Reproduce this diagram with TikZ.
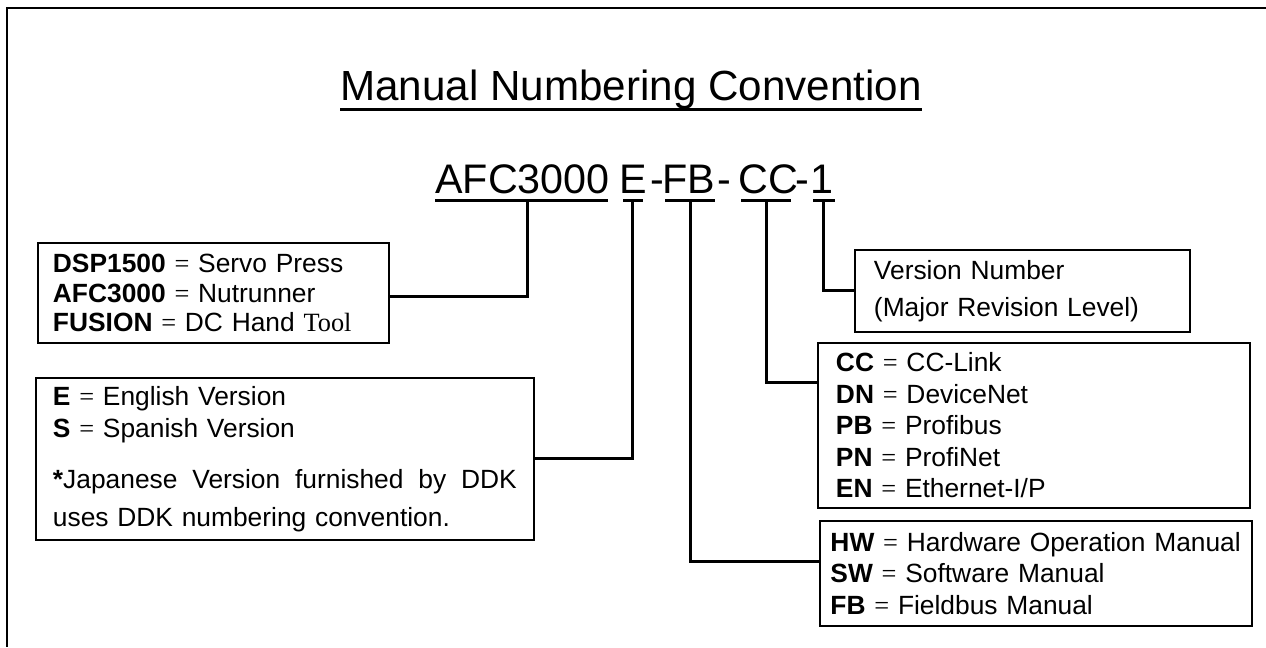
\documentclass[tikz,border=0pt]{standalone}
\usepackage{fontspec}
\setmainfont{Liberation Sans}
\newfontfamily\serifpart{Liberation Serif}
\usetikzlibrary{positioning, calc}
\newcommand{\eqsign}{{\serifpart =}}

\begin{document}
\begin{tikzpicture}[x=0.02cm, y=-0.02cm,
    infobox/.style={draw, line width=1.1pt, anchor=north west, align=left,
      font=\fontsize{15}{17.9}\selectfont},
    part/.style={inner sep=0pt, anchor=base west, font=\fontsize{23.5}{28}\selectfont},
    uline/.style={line width=1.7pt},
    conn/.style={line width=1.7pt}]

  \useasboundingbox (0,0) rectangle (1266,647);
  \draw[line width=1.5pt] (1266,8) -- (7,8) -- (7,647);

  % title
  \node[inner sep=0pt, anchor=base, font=\fontsize{24}{28}\selectfont] (title) at (631,100) {Manual Numbering Convention};
  \draw[uline] ($(title.base west)+(0,9)$) -- ($(title.base east)+(0,9)$);

  % part number
  \node[part] (pAFC) at (435,193) {AFC3000};
  \node[part] (pE) at (619,193) {E};
  \node[part, anchor=base] (d1) at (657.5,193) {-};
  \node[part] (pFB) at (662,193) {FB};
  \node[part, anchor=base] (d2) at (724.5,193) {-};
  \node[part] (pCC) at (738,193) {CC};
  \node[part, anchor=base] (d3) at (802,193) {-};
  \node[part] (p1) at (810,193) {1};
  \foreach \p/\s/\w/\m in {pAFC/0/173/92, pE/4/20/13, pFB/3/50/28, pCC/3/50/28, p1/3/22/13} {
    \draw[uline] ($(\p.base west)+(\s,7)$) -- +(\w,0);
    \coordinate (\p-u) at ($(\p.base west)+(\m,7)$);
  }

  % boxes
  \node[infobox, text width=6.42cm, inner xsep=0.3cm, minimum height=2cm,
    font=\fontsize{15}{16.8}\selectfont] (boxProd) at (37,242)
    {\textbf{DSP1500} \eqsign{} Servo Press\\
     \textbf{AFC3000} \eqsign{} Nutrunner\\
     \textbf{FUSION} \eqsign{} DC Hand {\serifpart Tool}};

  \node[infobox, text width=9.28cm, inner xsep=0.34cm, minimum height=3.24cm,
    font=\fontsize{15}{18.2}\selectfont] (boxLang) at (35,377)
    {\textbf{E} \eqsign{} English Version\\
     \textbf{S} \eqsign{} Spanish Version\\[10.8pt]
     \makebox[9.28cm][l]{\textbf{*}Japanese\hfill Version\hfill furnished\hfill by\hfill DDK}\\[3.4pt]
     uses DDK numbering convention.};

  \node[infobox, text width=5.94cm, inner xsep=0.38cm, minimum height=1.64cm,
    font=\fontsize{15}{21}\selectfont] (boxVer) at (854,249)
    {Version Number\\
     (Major Revision Level)};

  \node[infobox, text width=7.92cm, inner xsep=0.36cm, minimum height=3.3cm] (boxNet) at (817,342)
    {\textbf{CC} \eqsign{} CC-Link\\
     \textbf{DN} \eqsign{} DeviceNet\\
     \textbf{PB} \eqsign{} Profibus\\
     \textbf{PN} \eqsign{} ProfiNet\\
     \textbf{EN} \eqsign{} Ethernet-I/P};

  \node[infobox, text width=8.22cm, inner xsep=0.21cm, minimum height=2.1cm] (boxMan) at (819,520)
    {\mbox{\textbf{HW} \eqsign{} Hardware Operation Manual}\\
     \textbf{SW} \eqsign{} Software Manual\\
     \textbf{FB} \eqsign{} Fieldbus Manual};

  % connectors
  \draw[conn] (pAFC-u) |- ($(boxProd.east)+(0,4)$);
  \draw[conn] (pE-u) |- (boxLang.east);
  \draw[conn] (pFB-u) |- ($(boxMan.west)+(0,-12)$);
  \draw[conn] (pCC-u) |- ($(boxNet.north west)+(0,40)$);
  \draw[conn] (p1-u) |- (boxVer.west);
\end{tikzpicture}
\end{document}
